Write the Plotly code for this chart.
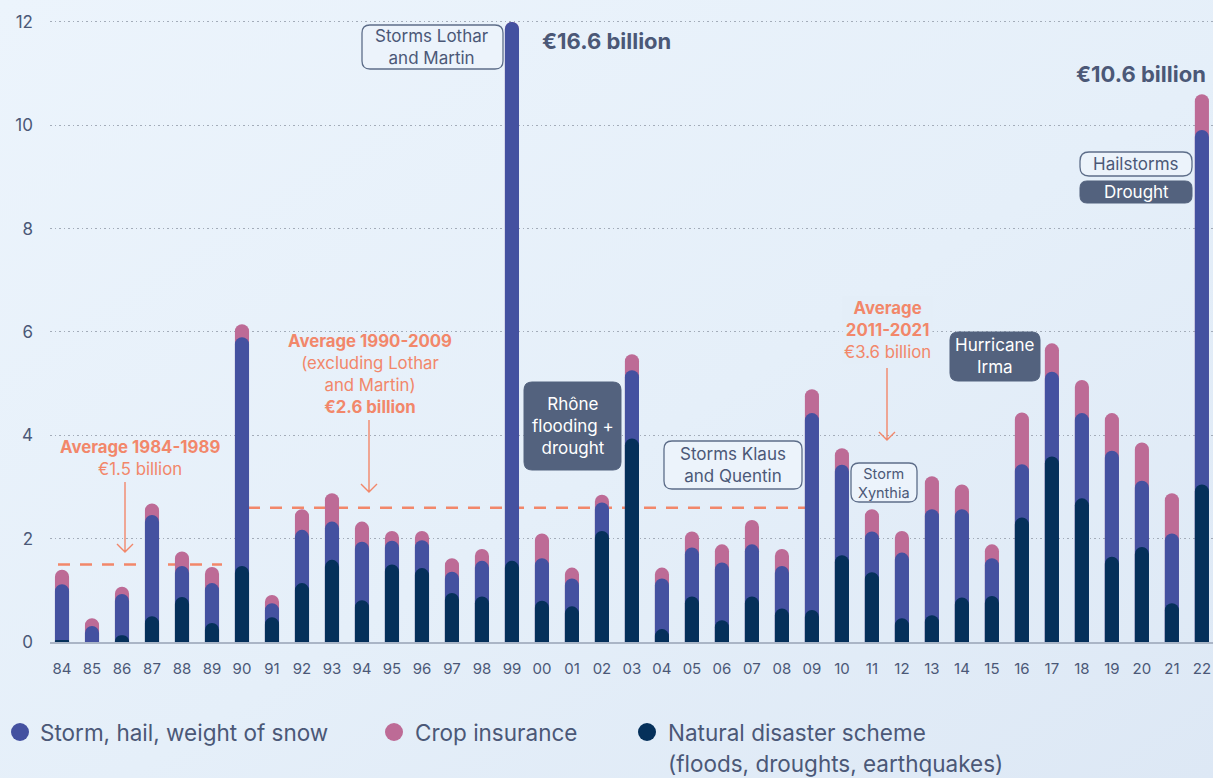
import base64
import numpy as np
import plotly.graph_objects as go

# ---------------- data (EUR billion) ----------------
years = ["84", "85", "86", "87", "88", "89", "90", "91", "92", "93", "94", "95", "96",
         "97", "98", "99", "00", "01", "02", "03", "04", "05", "06", "07", "08", "09",
         "10", "11", "12", "13", "14", "15", "16", "17", "18", "19", "20", "21", "22"]
natural_disaster = [0.03, 0.00, 0.13, 0.50, 0.87, 0.37, 1.47, 0.48, 1.14, 1.59, 0.81, 1.50, 1.43,
                    0.95, 0.88, 1.57, 0.80, 0.69, 2.15, 3.94, 0.25, 0.88, 0.42, 0.88, 0.65, 0.62,
                    1.68, 1.35, 0.46, 0.52, 0.86, 0.89, 2.41, 3.59, 2.78, 1.65, 1.84, 0.75, 3.05]
storm_hail_snow = [1.09, 0.31, 0.80, 1.96, 0.60, 0.77, 4.43, 0.27, 1.03, 0.74, 1.13, 0.46, 0.54,
                   0.41, 0.69, 15.00, 0.82, 0.54, 0.55, 1.32, 0.98, 0.95, 1.12, 1.01, 0.82, 3.81,
                   1.75, 0.79, 1.27, 2.05, 1.71, 0.73, 1.03, 1.64, 1.65, 2.05, 1.28, 1.35, 6.86]
crop_insurance = [0.28, 0.15, 0.14, 0.22, 0.28, 0.31, 0.25, 0.16, 0.40, 0.55, 0.39, 0.19, 0.18,
                  0.26, 0.23, 0.03, 0.48, 0.21, 0.15, 0.31, 0.21, 0.31, 0.35, 0.47, 0.33, 0.46,
                  0.32, 0.43, 0.42, 0.64, 0.48, 0.27, 1.00, 0.55, 0.64, 0.73, 0.74, 0.78, 0.69]
y_ticks = [0, 2, 4, 6, 8, 10, 12]
avg_84_89 = 1.5
avg_90_09 = 2.6
axis_cap = 12.0

# ---------------- styles ----------------
FONT = "Inter"
TXT = "#4b5877"
NAVY = "#05305a"
BLUE = "#4451a0"
PINK = "#bd6b96"
ORANGE = "#f2876a"
DARKBOX = "#53627e"
BOXLINE = "#5d6d89"
BG = "#e4eef8"

W, H = 1213, 778
L, R, T, B = 50, 0, 9, 136
PW, PH = W - L - R, H - T - B


def px(x):
    return (x - L) / PW


def py(y):
    return (H - B - y) / PH


def pt(x, y):
    return f"{px(x):.5f},{py(y):.5f}"


def rrect(x0, y0, x1, y1, r):
    return (f"M{pt(x0 + r, y0)} L{pt(x1 - r, y0)} Q{pt(x1, y0)} {pt(x1, y0 + r)} "
            f"L{pt(x1, y1 - r)} Q{pt(x1, y1)} {pt(x1 - r, y1)} L{pt(x0 + r, y1)} "
            f"Q{pt(x0, y1)} {pt(x0, y1 - r)} L{pt(x0, y0 + r)} Q{pt(x0, y0)} {pt(x0 + r, y0)} Z")


nat = np.array(natural_disaster)
mid = nat + np.array(storm_hail_snow)
tot = mid + np.array(crop_insurance)

fig = go.Figure()
common = dict(x=years, width=0.47, marker_cornerradius="50%", marker_line_width=0,
              hoverinfo="skip", showlegend=False)
# each layer on its own overlaid x axis so every segment gets its own rounded top
fig.add_trace(go.Bar(y=np.minimum(tot, axis_cap), marker_color=PINK, xaxis="x", **common))
fig.add_trace(go.Bar(y=np.minimum(mid, axis_cap), marker_color=BLUE, xaxis="x2", **common))
fig.add_trace(go.Bar(y=np.minimum(nat, axis_cap), marker_color=NAVY, xaxis="x3", **common))

shapes = []
annotations = []

# average dashed lines
shapes.append(dict(type="line", xref="paper", yref="y", x0=px(58), x1=px(222), y0=avg_84_89, y1=avg_84_89,
                   line=dict(color=ORANGE, width=2.5, dash="12px,10px"), layer="between"))
shapes.append(dict(type="line", xref="paper", yref="y", x0=px(248), x1=px(806), y0=avg_90_09, y1=avg_90_09,
                   line=dict(color=ORANGE, width=2.5, dash="12px,10px"), layer="between"))

# arrows
for (ax, y0, y1) in [(125, 482, 552), (369, 420, 492), (887, 368, 440)]:
    shapes.append(dict(type="path", xref="paper", yref="paper",
                       path=f"M{pt(ax, y0)} L{pt(ax, y1)} M{pt(ax - 8, y1 - 8)} L{pt(ax, y1)} L{pt(ax + 8, y1 - 8)}",
                       line=dict(color=ORANGE, width=1.4), layer="above"))


def add_text(text, x, y, size=17, color=TXT, xanchor="center", bg=None, bold=False):
    if bold:
        text = f"<b>{text}</b>"
    a = dict(text=text, x=px(x), y=py(y), xref="paper", yref="paper", xanchor=xanchor, yanchor="middle",
             showarrow=False, align="center", font=dict(family=FONT, size=size, color=color))
    if bg:
        a["bgcolor"] = bg
    annotations.append(a)


def outline_box(x0, y0, x1, y1, r=8):
    shapes.append(dict(type="path", xref="paper", yref="paper", path=rrect(x0, y0, x1, y1, r),
                       line=dict(color=BOXLINE, width=1.3), fillcolor="rgba(236,243,251,0.9)", layer="above"))


def filled_box(x0, y0, x1, y1, r=8):
    shapes.append(dict(type="path", xref="paper", yref="paper", path=rrect(x0, y0, x1, y1, r),
                       line=dict(color=DARKBOX, width=1), fillcolor=DARKBOX, layer="above"))


# event labels
outline_box(362, 25, 503, 69, 8)
add_text("Storms Lothar<br>and Martin", 432.5, 47)
add_text("€16.6 billion", 540, 41, size=22, bold=True, xanchor="left")
add_text("€10.6 billion", 1208, 74, size=22, bold=True, xanchor="right")
outline_box(1080, 152, 1192, 176, 9)
add_text("Hailstorms", 1136, 164)
filled_box(1080, 181, 1192, 203, 7)
add_text("Drought", 1136, 192, color="white")
filled_box(524, 382, 621, 470, 8)
add_text("Rhône<br>flooding +<br>drought", 572.5, 426, color="white")
outline_box(664, 441, 802, 489, 8)
add_text("Storms Klaus<br>and Quentin", 733, 465)
outline_box(851, 463, 917, 502, 8)
add_text("Storm<br>Xynthia", 884, 483, size=14.5)
filled_box(950, 332, 1040, 381, 8)
add_text("Hurricane<br>Irma", 995, 356, color="white")

# average labels
add_text("<b>Average 1984-1989</b><br>€1.5 billion", 140, 458, size=16.8, color=ORANGE)
add_text("<b>Average 1990-2009</b><br>(excluding Lothar<br>and Martin)<br><b>€2.6 billion</b>",
         370, 374, size=16.8, color=ORANGE)
add_text("<b>Average</b><br><b>2011-2021</b><br>€3.6 billion", 887, 330, size=16.8, color=ORANGE, bg=BG)

# custom legend
for (cx, col, label, tx) in [(20, BLUE, "Storm, hail, weight of snow", 38),
                             (394, PINK, "Crop insurance", 413),
                             (647, NAVY, "Natural disaster scheme", 666)]:
    shapes.append(dict(type="circle", xref="paper", yref="paper", x0=px(cx - 9), x1=px(cx + 9),
                       y0=py(732 + 9), y1=py(732 - 9), fillcolor=col, line=dict(width=0)))
    add_text(label, tx, 732, size=22.5, xanchor="left")
add_text("(floods, droughts, earthquakes)", 666, 763, size=22.5, xanchor="left")
annotations.append(dict(text="Source: France Assureurs", x=px(10), y=py(773), xref="paper", yref="paper",
                        xanchor="left", yanchor="top", showarrow=False,
                        font=dict(family=FONT, size=22, color=TXT)))

# gradient background via inline SVG
svg = ('<svg xmlns="http://www.w3.org/2000/svg" width="1213" height="778" preserveAspectRatio="none">'
       '<defs><linearGradient id="g" x1="0" y1="0" x2="1" y2="1">'
       '<stop offset="0" stop-color="#ecf4fc"/><stop offset="0.55" stop-color="#e5eff9"/>'
       '<stop offset="1" stop-color="#dde8f5"/></linearGradient></defs>'
       '<rect width="1213" height="778" fill="url(#g)"/></svg>')
src = "data:image/svg+xml;base64," + base64.b64encode(svg.encode()).decode()

hidden_x = dict(type="category", range=[-0.4, 38.37], overlaying="x", visible=False, fixedrange=True)

fig.update_layout(
    width=W, height=H,
    margin=dict(l=L, r=R, t=T, b=B),
    barmode="overlay",
    paper_bgcolor=BG,
    plot_bgcolor="rgba(0,0,0,0)",
    font=dict(family=FONT, color=TXT),
    shapes=shapes,
    annotations=annotations,
    images=[dict(source=src, xref="paper", yref="paper", x=px(0), y=py(0), sizex=W / PW, sizey=H / PH,
                 xanchor="left", yanchor="top", sizing="stretch", layer="below")],
    xaxis=dict(type="category", range=[-0.4, 38.37], showgrid=False, ticks="",
               showline=True, linecolor="#aab5c6", linewidth=2,
               tickfont=dict(family=FONT, size=15, color=TXT), ticklabelstandoff=12, fixedrange=True),
    xaxis2=hidden_x,
    xaxis3=hidden_x,
    yaxis=dict(range=[0, 12.25], tickvals=y_ticks, ticktext=[str(v) for v in y_ticks],
               showgrid=True, gridcolor="#a3acb9", gridwidth=1, griddash="1.5px,3px",
               zeroline=False, ticks="", ticklabelstandoff=16,
               tickfont=dict(family=FONT, size=17, color=TXT), fixedrange=True),
)

fig.write_html("out.html")
